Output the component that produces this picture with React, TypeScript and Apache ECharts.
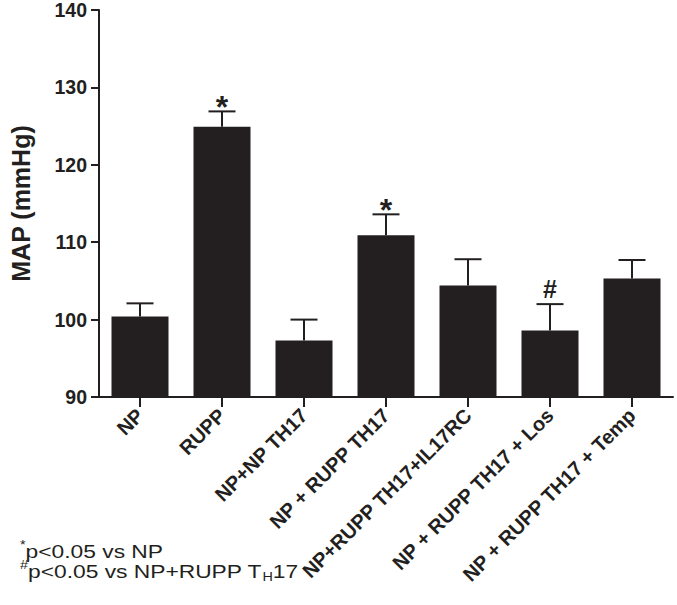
import React, { useEffect, useRef } from "react";
import * as echarts from "echarts";

const categories = [
  "NP",
  "RUPP",
  "NP+NP TH17",
  "NP + RUPP TH17",
  "NP+RUPP TH17+IL17RC",
  "NP + RUPP TH17 + Los",
  "NP + RUPP TH17 + Temp",
];
const meanValues = [100.4, 124.9, 97.3, 110.9, 104.4, 98.6, 105.3];
const errorValues = [1.7, 2.0, 2.7, 2.7, 3.4, 3.4, 2.4];
const significance = ["", "*", "", "*", "", "#", ""];
const yTicks = { min: 90, max: 140, interval: 10 };

const INK = "#231f20";
const FONT = "'Liberation Sans', Arial, Helvetica, sans-serif";

export default function App() {
  const ref = useRef<HTMLDivElement>(null);

  useEffect(() => {
    if (!ref.current) return;
    const chart = echarts.init(ref.current, undefined, { renderer: "svg" });
    const option = {
      animation: false,
      backgroundColor: "#ffffff",
      textStyle: { fontFamily: FONT, color: INK },
      grid: { left: 92, top: 10, right: 4, bottom: 208, containLabel: false },
      xAxis: {
        type: "category",
        data: categories,
        axisLine: { show: true, lineStyle: { color: INK, width: 2 } },
        axisTick: { show: true, alignWithLabel: true, length: 10, lineStyle: { color: INK, width: 2 } },
        axisLabel: {
          rotate: 45,
          interval: 0,
          margin: 15,
          fontSize: 20,
          fontWeight: "bold",
          fontFamily: FONT,
          color: INK,
        },
        splitLine: { show: false },
      },
      yAxis: {
        type: "value",
        min: yTicks.min,
        max: yTicks.max,
        interval: yTicks.interval,
        name: "MAP (mmHg)",
        nameLocation: "middle",
        nameGap: 66,
        nameTextStyle: { fontSize: 25, fontWeight: "bold", fontFamily: FONT, color: INK },
        axisLine: { show: true, lineStyle: { color: INK, width: 2 } },
        axisTick: { show: true, length: 8, lineStyle: { color: INK, width: 2 } },
        axisLabel: { margin: 12, fontSize: 19.5, fontWeight: "bold", fontFamily: FONT, color: INK },
        splitLine: { show: false },
      },
      series: [
        {
          type: "bar",
          data: meanValues,
          barWidth: 57,
          itemStyle: { color: INK },
          z: 2,
        },
        {
          type: "custom",
          z: 3,
          data: categories.map((c, i) => [i, meanValues[i], errorValues[i]]),
          encode: { x: 0, y: 1 },
          renderItem: (params: any, api: any) => {
            const i = api.value(0);
            const mean = api.value(1);
            const err = api.value(2);
            const base = api.coord([i, mean]);
            const top = api.coord([i, mean + err]);
            const half = 13.5;
            const children: any[] = [
              {
                type: "line",
                shape: { x1: base[0], y1: base[1], x2: top[0], y2: top[1] },
                style: { stroke: INK, lineWidth: 2 },
              },
              {
                type: "line",
                shape: { x1: top[0] - half, y1: top[1], x2: top[0] + half, y2: top[1] },
                style: { stroke: INK, lineWidth: 2 },
              },
            ];
            const mark = significance[params.dataIndex];
            if (mark) {
              const isStar = mark === "*";
              children.push({
                type: "text",
                x: top[0],
                y: top[1] - (isStar ? 4 : 15),
                style: {
                  text: mark,
                  fontSize: isStar ? 32 : 25,
                  fontWeight: "bold",
                  fontFamily: FONT,
                  fill: INK,
                  align: "center",
                  verticalAlign: "middle",
                },
              });
            }
            return { type: "group", children };
          },
        },
      ],
      graphic: [
        {
          type: "text",
          left: 20,
          top: 539,
          scaleX: 1.2,
          style: {
            text: "{sup|*}{n|p<0.05 vs NP}",
            fill: INK,
            fontFamily: FONT,
            rich: {
              n: { fontSize: 19, lineHeight: 24, fontFamily: FONT, fill: INK },
              sup: { fontSize: 12, lineHeight: 14, verticalAlign: "top", fontFamily: FONT, fill: INK },
            },
          },
        },
        {
          type: "text",
          left: 20,
          top: 559,
          scaleX: 1.2,
          style: {
            text: "{sup|#}{n|p<0.05 vs NP+RUPP T}{sub|H}{n|17}",
            fill: INK,
            fontFamily: FONT,
            rich: {
              n: { fontSize: 19, lineHeight: 24, fontFamily: FONT, fill: INK },
              sup: { fontSize: 12, lineHeight: 14, verticalAlign: "top", fontFamily: FONT, fill: INK },
              sub: { fontSize: 12, lineHeight: 10, verticalAlign: "bottom", fontFamily: FONT, fill: INK },
            },
          },
        },
      ],
    };
    chart.setOption(option as any);
    return () => chart.dispose();
  }, []);

  return (
    <div
      ref={ref}
      style={{ position: "fixed", left: 0, top: 0, width: 677, height: 605, background: "#fff" }}
    />
  );
}
